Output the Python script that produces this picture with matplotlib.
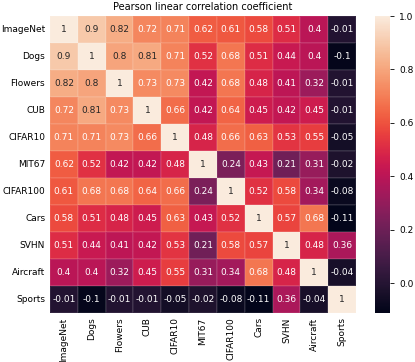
import numpy as np
import matplotlib
matplotlib.use("Agg")
import matplotlib.pyplot as plt
import seaborn as sns

labels = ["ImageNet", "Dogs", "Flowers", "CUB", "CIFAR10", "MIT67",
          "CIFAR100", "Cars", "SVHN", "Aircraft", "Sports"]

row_imagenet = [1, 0.9, 0.82, 0.72, 0.71, 0.62, 0.61, 0.58, 0.51, 0.4, -0.01]
row_dogs     = [0.9, 1, 0.8, 0.81, 0.71, 0.52, 0.68, 0.51, 0.44, 0.4, -0.1]
row_flowers  = [0.82, 0.8, 1, 0.73, 0.73, 0.42, 0.68, 0.48, 0.41, 0.32, -0.01]
row_cub      = [0.72, 0.81, 0.73, 1, 0.66, 0.42, 0.64, 0.45, 0.42, 0.45, -0.01]
row_cifar10  = [0.71, 0.71, 0.73, 0.66, 1, 0.48, 0.66, 0.63, 0.53, 0.55, -0.05]
row_mit67    = [0.62, 0.52, 0.42, 0.42, 0.48, 1, 0.24, 0.43, 0.21, 0.31, -0.02]
row_cifar100 = [0.61, 0.68, 0.68, 0.64, 0.66, 0.24, 1, 0.52, 0.58, 0.34, -0.08]
row_cars     = [0.58, 0.51, 0.48, 0.45, 0.63, 0.43, 0.52, 1, 0.57, 0.68, -0.11]
row_svhn     = [0.51, 0.44, 0.41, 0.42, 0.53, 0.21, 0.58, 0.57, 1, 0.48, 0.36]
row_aircraft = [0.4, 0.4, 0.32, 0.45, 0.55, 0.31, 0.34, 0.68, 0.48, 1, -0.04]
row_sports   = [-0.01, -0.1, -0.01, -0.01, -0.05, -0.02, -0.08, -0.11, 0.36, -0.04, 1]

data = np.array([row_imagenet, row_dogs, row_flowers, row_cub, row_cifar10,
                 row_mit67, row_cifar100, row_cars, row_svhn, row_aircraft,
                 row_sports])

plt.rcParams['font.family'] = ['DejaVu Sans']
fig = plt.figure(figsize=(4.15, 3.62), dpi=100)
ax = fig.add_axes([50/415, 1 - 312.5/362, (356-50)/415, (312.5-16)/362])
cax = fig.add_axes([375/415, 1 - 312.5/362, 15/415, (312.5-16)/362])

sns.heatmap(data, ax=ax, cbar_ax=cax, cmap="rocket", annot=True,
            annot_kws={"size": 6.5}, xticklabels=labels, yticklabels=labels,
            linewidths=0.2, linecolor=(1, 1, 1, 0.08))
ax.set_title("Pearson linear correlation coefficient", fontsize=7, pad=4)
ax.tick_params(axis='both', labelsize=6.5, length=0)
ax.set_xticklabels(labels, rotation=90)
ax.set_yticklabels(labels, rotation=0)
cax.tick_params(labelsize=6.5, length=3, width=0.6)
cax.set_yticks([0.0, 0.2, 0.4, 0.6, 0.8, 1.0])
cax.set_yticklabels(["0.0", "0.2", "0.4", "0.6", "0.8", "1.0"])
for s in cax.spines.values():
    s.set_visible(False)

fig.savefig("out.png", dpi=100)
